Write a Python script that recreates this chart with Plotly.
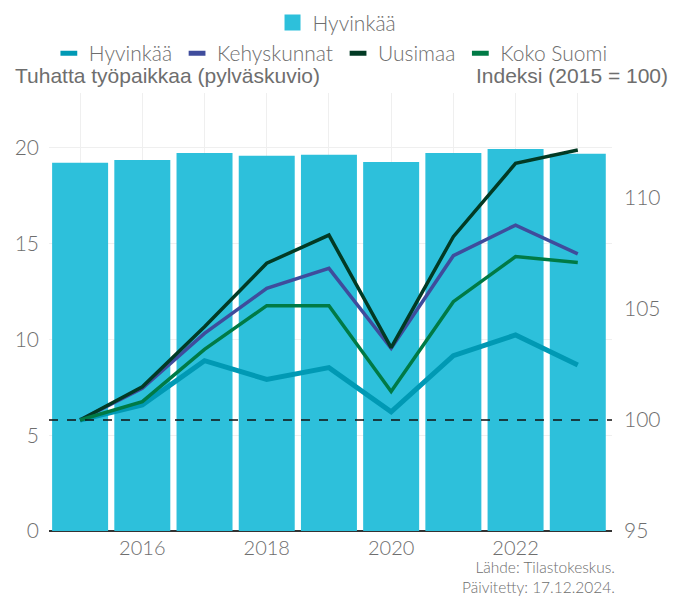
import plotly.graph_objects as go

years = [2015, 2016, 2017, 2018, 2019, 2020, 2021, 2022, 2023]
jobs_hyvinkaa = [19.22, 19.36, 19.73, 19.59, 19.64, 19.26, 19.73, 19.94, 19.69]
idx_hyvinkaa = [100.0, 100.68, 102.67, 101.83, 102.36, 100.37, 102.9, 103.83, 102.48]
idx_kehys = [100.0, 101.43, 103.9, 105.93, 106.83, 103.23, 107.4, 108.78, 107.48]
idx_uusimaa = [100.0, 101.5, 104.2, 107.06, 108.33, 103.26, 108.26, 111.56, 112.16]
idx_suomi = [100.0, 100.83, 103.18, 105.15, 105.15, 101.28, 105.33, 107.36, 107.09]
xtick_labels = ["", "2016", "", "2018", "", "2020", "", "2022", ""]

FONT = "Lato"
GRAY = "#6e6e6e"
BAR_COLOR = "#2DC0DB"

fig = go.Figure()
fig.add_trace(go.Bar(x=years, y=jobs_hyvinkaa, name="Hyvinkää",
                     marker=dict(color=BAR_COLOR, line=dict(width=0)),
                     showlegend=False, yaxis="y"))
# legend key for the bar series
fig.add_trace(go.Scatter(x=[None], y=[None], name="Hyvinkää", mode="markers",
                         marker=dict(symbol="square", size=16, color=BAR_COLOR),
                         legend="legend", yaxis="y"))
lines = [
    ("Hyvinkää", idx_hyvinkaa, "#0099B4", 5),
    ("Kehyskunnat", idx_kehys, "#3F4C9C", 3.5),
    ("Uusimaa", idx_uusimaa, "#023A24", 3.5),
    ("Koko Suomi", idx_suomi, "#007A45", 3.5),
]
for name, vals, col, w in lines:
    fig.add_trace(go.Scatter(x=years, y=vals, name=name, mode="lines",
                             line=dict(color=col, width=w),
                             showlegend=False, yaxis="y2"))
for name, vals, col, w in lines:
    fig.add_trace(go.Scatter(x=[None], y=[None], name=name, mode="markers",
                             marker=dict(symbol="line-ew", size=12,
                                         line=dict(color=col, width=6)),
                             legend="legend2", yaxis="y2"))

fig.add_shape(type="line", xref="paper", yref="y2", x0=0, x1=1, y0=100, y1=100,
              line=dict(color="#111", width=1.5, dash="dash"), layer="above")

legend_font = dict(size=21, color=GRAY, family=FONT, weight=300)
fig.update_layout(
    width=685, height=601,
    margin=dict(l=49, r=73, t=93, b=70),
    plot_bgcolor="white", paper_bgcolor="white",
    font=dict(family=FONT, color=GRAY),
    bargap=0.1,
    xaxis=dict(range=[2014.5, 2023.55], tickvals=years, ticktext=xtick_labels,
               showgrid=True, gridcolor="#efefef", gridwidth=1,
               ticks="", tickfont=dict(size=20, color=GRAY, family=FONT, weight=300),
               ticklabelstandoff=3,
               showline=False, zeroline=False, automargin=False),
    yaxis=dict(range=[0, 22.86], tickvals=[0, 5, 10, 15, 20],
               showgrid=True, gridcolor="#efefef", gridwidth=1,
               tickfont=dict(size=21, color=GRAY, family=FONT, weight=300),
               ticklabelstandoff=9, zeroline=True, zerolinecolor="#333", zerolinewidth=2,
               showline=False, automargin=False),
    yaxis2=dict(range=[95, 114.73], tickvals=[95, 100, 105, 110], overlaying="y",
                side="right", showgrid=False, zeroline=False, automargin=False,
                tickfont=dict(size=21, color=GRAY, family=FONT, weight=300),
                ticklabelstandoff=11),
    legend=dict(orientation="h", x=0.492, xanchor="center", y=0.996, yanchor="top",
                yref="container", xref="container", font=legend_font,
                bgcolor="rgba(0,0,0,0)", itemsizing="trace"),
    legend2=dict(orientation="h", x=0.483, xanchor="center", y=0.945, yanchor="top",
                 yref="container", xref="container", font=legend_font,
                 bgcolor="rgba(0,0,0,0)", itemsizing="trace", tracegroupgap=0),
    showlegend=True,
)

fig.add_annotation(text="Tuhatta työpaikkaa (pylväskuvio)", xref="paper", yref="paper",
                   x=-0.064, y=1.039, xanchor="left", yanchor="middle", showarrow=False,
                   font=dict(family="Liberation Sans", size=21, color=GRAY))
fig.add_annotation(text="Indeksi (2015 = 100)", xref="paper", yref="paper",
                   x=1.103, y=1.039, xanchor="right", yanchor="middle", showarrow=False,
                   font=dict(family="Liberation Sans", size=21, color=GRAY))
fig.add_annotation(text="Lähde: Tilastokeskus.<br>Päivitetty: 17.12.2024.",
                   xref="paper", yref="paper", x=1.008, y=-0.106,
                   xanchor="right", yanchor="middle", align="right", showarrow=False,
                   font=dict(family=FONT, size=15.5, color=GRAY, weight=300))

fig.write_html("out.html", config={"displayModeBar": False},
               post_script="document.body.style.margin='0px';")
